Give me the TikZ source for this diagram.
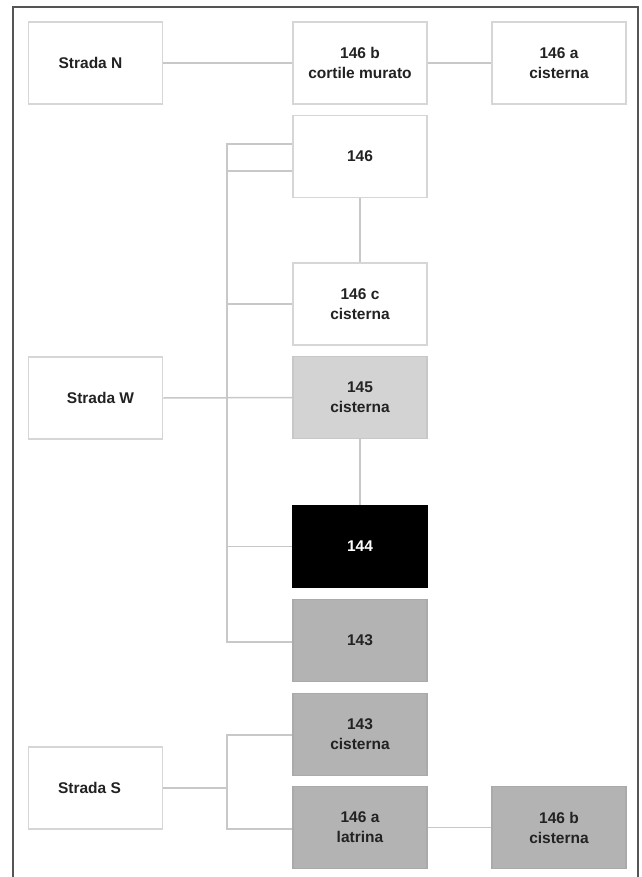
\documentclass[tikz,border=0pt]{standalone}
\usepackage{fontspec}
\setmainfont{Liberation Sans}
\definecolor{framec}{HTML}{555555}
\definecolor{linec}{HTML}{C8C8C8}
\definecolor{boxline}{HTML}{D6D6D6}
\definecolor{lightg}{HTML}{D3D3D3}
\definecolor{midg}{HTML}{B3B3B3}
\definecolor{txt}{HTML}{222222}
\tikzset{
  base/.style={rectangle, minimum width=134pt, minimum height=82pt, inner sep=0pt,
    align=center, font=\fontsize{15.5}{20}\selectfont\bfseries, text=txt, line width=1.8pt},
  whitebox/.style={base, draw=boxline, fill=white},
  lightbox/.style={base, draw=lightg!95!black, fill=lightg},
  midbox/.style={base, draw=midg!95!black, fill=midg},
  blackbox/.style={base, draw=black, fill=black, text=white},
  conn/.style={draw=linec, line width=1.5pt},
}
\begin{document}
\begin{tikzpicture}[x=1pt,y=-1pt]
\useasboundingbox (0,0) rectangle (641,877);
\fill[white] (0,0) rectangle (641,877);
\draw[framec, line width=2pt] (13,877) -- (13,7) -- (638,7) -- (638,877);

\node[whitebox] (sn) at (95.5,63) {Strada N\hspace*{10pt}};
\node[whitebox] (b146b) at (360,63) {146 b\\cortile murato};
\node[whitebox] (a146a) at (559,63) {146 a\\cisterna};
\node[whitebox] (n146) at (360,156.5) {146};
\node[whitebox] (n146c) at (360,304) {146 c\\cisterna};
\node[whitebox] (sw) at (95.5,398) {\hspace*{10pt}Strada W};
\node[lightbox] (n145) at (360,397.5) {145\\cisterna};
\node[blackbox] (n144) at (360,546.5) {144};
\node[midbox] (n143) at (360,640.5) {143};
\node[midbox] (n143c) at (360,734.5) {143\\cisterna};
\node[whitebox] (ss) at (95.5,788) {Strada S\hspace*{12pt}};
\node[midbox] (n146al) at (360,827.5) {146 a\\latrina};
\node[midbox] (n146bc) at (559,827.5) {146 b\\cisterna};

\coordinate (wt) at (227,144);
\coordinate (w2) at (227,171);
\coordinate (wb) at (227,642);
\coordinate (st) at (227,735);
\coordinate (sb) at (227,829);

\draw[conn] (sn.east) -- (b146b.west);
\draw[conn] (b146b.east) -- (a146a.west);
\draw[conn] (wt -| n146.west) -- (wt) -- (wb) -- (wb -| n143.west);
\draw[conn] (w2) -- (w2 -| n146.west);
\draw[conn] (n146c.west -| wt) -- (n146c.west);
\draw[conn] (n144.west -| wt) -- (n144.west);
\draw[conn] (sw.east) -- (n145.west);
\draw[conn] (n146.south) -- (n146c.north);
\draw[conn] (n145.south) -- (n144.north);
\draw[conn] (ss.east) -- (ss.east -| st);
\draw[conn] (st -| n143c.west) -- (st) -- (sb) -- (sb -| n146al.west);
\draw[conn] (n146al.east) -- (n146bc.west);
\end{tikzpicture}
\end{document}
